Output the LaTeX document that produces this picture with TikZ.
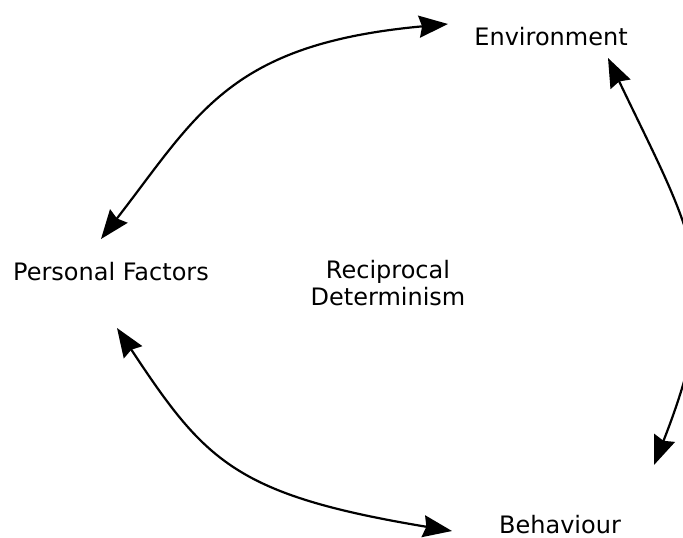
\documentclass[tikz,border=0pt]{standalone}
\usepackage{fontspec}
\setmainfont{DejaVu Sans}
\usetikzlibrary{arrows.meta}
\begin{document}
\begin{tikzpicture}[x=1pt,y=-1pt,
  lbl/.style={font=\fontsize{24}{27}\selectfont, inner sep=0pt, align=center},
  link/.style={line width=2.2pt, {Stealth[length=29pt,width=22pt,inset=3pt]}-{Stealth[length=29pt,width=22pt,inset=3pt]}}]
\useasboundingbox (0,0) rectangle (683,538);
\clip (0,0) rectangle (683,538);
\node[lbl, anchor=base] (env) at (551,45) {Environment};
\node[lbl, anchor=base] (pers) at (111,280) {Personal Factors};
\node[lbl] (recip) at (388,283) {Reciprocal\\Determinism};
\node[lbl, anchor=base] (beh) at (560,533) {Behaviour};
\coordinate (pe) at (101,239);
\coordinate (ep) at (448,24);
\coordinate (pb) at (117,328);
\coordinate (bp) at (452,531);
\coordinate (eb) at (608,58);
\coordinate (be) at (654,465);
\draw[link] (pe) .. controls (198,114) and (229,44) .. (ep);
\draw[link] (pb) .. controls (205,461) and (235,495) .. (bp);
\draw[link] (eb) .. controls (694,238) and (727,279) .. (be);
\end{tikzpicture}
\end{document}
